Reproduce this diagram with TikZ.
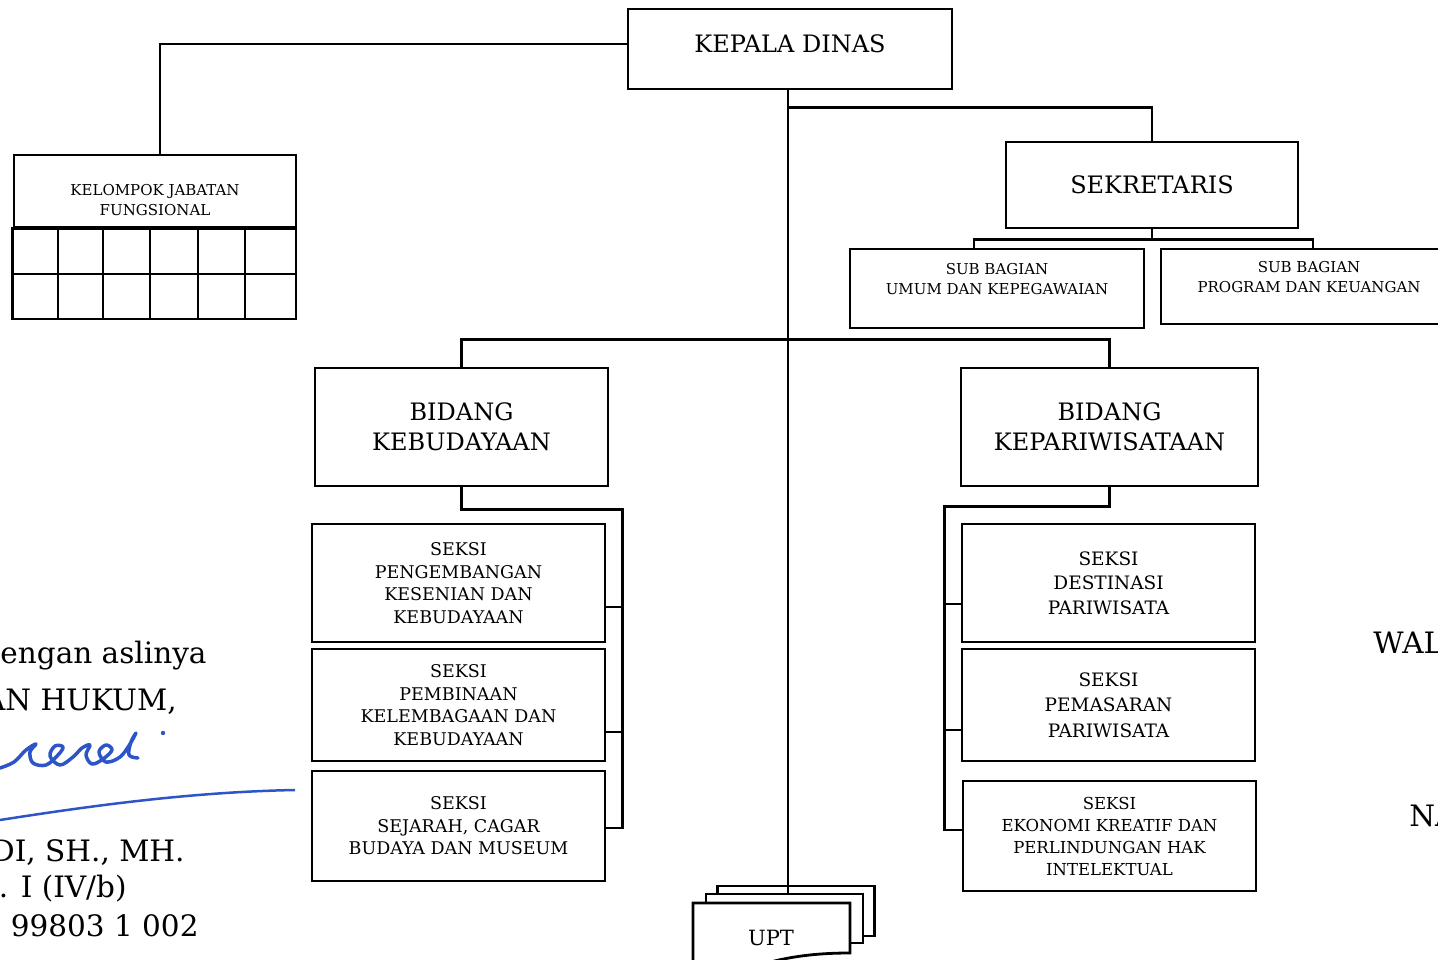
\documentclass[tikz,border=0pt]{standalone}
\usepackage{fontspec}
\setmainfont{DejaVu Serif}
\usetikzlibrary{positioning}

\definecolor{inkblue}{RGB}{45,85,200}

\begin{document}
\begin{tikzpicture}[
                x=1pt, y=-1pt,
                line width=2.8pt,
                box/.style={rectangle, draw, minimum width=293pt, minimum height=118pt, align=center, inner sep=0pt},
                bigtext/.style={font=\fontsize{24}{30}\selectfont},
                midtext/.style={font=\fontsize{17.5}{22.5}\selectfont},
                smalltext/.style={font=\fontsize{15}{20}\selectfont},
                page/.style={rectangle, draw, fill=white, minimum width=157pt, minimum height=50pt, inner sep=0pt},
                side/.style={font=\fontsize{29.5}{36}\selectfont, inner sep=0pt}
            ]
                \useasboundingbox (0,0) rectangle (1438,960);

                % top
                \node[box, bigtext, minimum width=324pt, minimum height=80pt, text depth=10pt] (kd) at (790,49) {KEPALA DINAS};
                \node[box, minimum width=282pt, minimum height=72pt] (kjf) at (155,191) {};
                \node[smalltext, align=center] (kjftext) at ([yshift=-9]kjf.center) {KELOMPOK JABATAN\\FUNGSIONAL};
                \node[box, bigtext, minimum width=292pt, minimum height=86pt] (sek) at (1152,185) {SEKRETARIS};
                \node[box, smalltext, minimum width=294pt, minimum height=79pt] (sbu) at (997,288.5) {SUB BAGIAN\\UMUM DAN KEPEGAWAIAN\\};
                \node[box, smalltext, minimum width=296pt, minimum height=75pt] (sbp) at (1309,286.5) {SUB BAGIAN\\PROGRAM DAN KEUANGAN\\};

                % grid under kelompok jabatan
                \draw (kjf.south west) rectangle (296,319);
                \draw (14,274) -- (296,274);
                \foreach \cx in {58,103,150,198,245}
                    \draw (\cx,227) -- (\cx,319);

                % bidang
                \node[box, bigtext] (bk) at (461.5,427) {BIDANG\\KEBUDAYAAN};
                \node[box, bigtext, minimum width=297pt] (bp) at (1109.5,427) {BIDANG\\KEPARIWISATAAN};

                % seksi kebudayaan
                \node[box, midtext] (s1) at (458.5,583) {SEKSI\\PENGEMBANGAN\\KESENIAN DAN\\KEBUDAYAAN};
                \node[box, midtext, minimum height=112pt] (s2) at (458.5,705) {SEKSI\\PEMBINAAN\\KELEMBAGAAN DAN\\KEBUDAYAAN};
                \node[box, midtext, minimum height=110pt] (s3) at (458.5,826) {SEKSI\\SEJARAH, CAGAR\\BUDAYA DAN MUSEUM};

                % seksi kepariwisataan
                \node[box, font=\fontsize{18.5}{24.5}\selectfont] (r1) at (1108.5,583) {SEKSI\\DESTINASI\\PARIWISATA};
                \node[box, font=\fontsize{18.5}{25.5}\selectfont, minimum height=112pt] (r2) at (1108.5,705) {SEKSI\\PEMASARAN\\PARIWISATA};
                \node[box, font=\fontsize{16.5}{22}\selectfont, minimum height=110pt] (r3) at (1109.5,836) {SEKSI\\EKONOMI KREATIF DAN\\PERLINDUNGAN HAK\\INTELEKTUAL};

                % upt
                \node[page] (uptback) at (796,911) {};
                \node[page, minimum height=49pt] (uptmid) at (784.5,918.5) {};
                \draw[fill=white] (693,903) -- (850,903) -- (850,953)
                    .. controls (810,953) and (775,958) .. (740,972) -- (693,972) -- cycle;
                \node[font=\fontsize{21}{25}\selectfont] (upt) at (771,938) {UPT};

                % connectors
                \draw ([xshift=-2]kd.south) -- ([xshift=-2]kd.south |- uptmid.north);
                \draw ([yshift=5]kd.west) -| ([xshift=5]kjf.north);
                \draw ([xshift=-2,yshift=-17]kd.south) -| (sek.north);
                \draw (sek.south) -- ++(0,10);
                \draw ([xshift=-23]sbu.north) |- ([yshift=-10]sek.south) -| ([xshift=4]sbp.north);
                \draw (bk.north) -- ++(0,-27) -| (bp.north);

                \draw (bk.south) -- ++(0,22) -| ([xshift=16,yshift=-2]s3.east) -- ([yshift=-2]s3.east);
                \draw ([yshift=-24]s1.east) -- ++(16,0);
                \draw ([yshift=-27]s2.east) -- ++(16,0);

                \draw (bp.south) -- ++(0,19) -| ([xshift=-17,yshift=6]r3.west) -- ([yshift=6]r3.west);
                \draw ([yshift=-21]r1.west) -- ++(-16,0);
                \draw ([yshift=-25]r2.west) -- ++(-16,0);

                % side texts
                \node[side, anchor=base east] (sl1) at (208,663) {engan aslinya};
                \node[side, anchor=base east] (sl2) at (178,710) {AN HUKUM,};
                \node[side, anchor=base east] (sl3) at (186,861) {DI, SH., MH.};
                \node[side, anchor=base east] (sl4) at (128,897) {. I (IV/b)};
                \node[side, anchor=base east] (sl5) at (200,936) {99803 1 002};
                \node[side, anchor=base west] (sr1) at (1372,653) {WAL};
                \node[side, anchor=base west] (sr2) at (1408,826) {NA};

                % signature
                \draw[inkblue, line width=3.5pt, line cap=round, line join=round]
                    plot[smooth, tension=0.6] coordinates {(0,768) (14,762) (26,750) (36,744) (30,752) (33,763) (46,765) (58,755) (63,747) (55,746) (50,756) (60,765) (73,757) (82,748) (90,745) (86,755) (92,764) (103,759) (112,750) (106,745) (99,752) (106,762) (120,757) (130,744) (136,733) (131,742) (129,755) (138,758)};
                \fill[inkblue] (163,733) circle (2.2pt);
                \draw[inkblue, line width=2.5pt] (0,820) .. controls (90,806) and (190,792) .. (295,790);
            \end{tikzpicture}
\end{document}
